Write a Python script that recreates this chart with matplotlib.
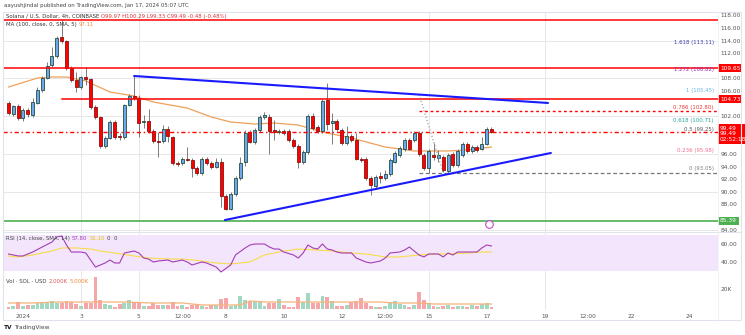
import matplotlib
matplotlib.use("Agg")
import matplotlib.pyplot as plt
import matplotlib.dates as mdates
import matplotlib.transforms as mtransforms
from matplotlib.patches import Rectangle
from matplotlib.lines import Line2D
import numpy as np
import pandas as pd

W, H = 745, 335

# SOL/USD 4h candles, Coinbase
opens = [104.10, 102.35, 103.62, 101.71, 102.98, 102.19, 104.10, 106.16, 108.06, 110.13,
         111.56, 114.57, 113.94, 109.65, 107.75, 106.63, 108.22, 107.90, 103.46, 101.87,
         97.27, 98.54, 101.08, 98.86, 98.70, 103.78, 105.21, 104.89, 101.08, 101.24,
         99.65, 98.06, 98.06, 99.97, 98.70, 94.57, 94.57, 95.21, 95.05, 93.78,
         92.98, 95.21, 94.57, 93.94, 94.73, 89.33, 87.27, 89.65, 92.19, 94.73,
         99.49, 97.90, 99.81, 101.87, 101.87, 99.81, 99.49, 99.65, 99.65, 98.22,
         97.27, 94.73, 96.32, 102.03, 100.29, 99.65, 104.57, 100.92, 101.24, 99.81,
         97.75, 98.86, 98.22, 95.21, 95.21, 92.19, 90.92, 92.51, 92.19, 92.83,
         94.73, 95.84, 96.79, 98.22, 98.22, 99.33, 95.84, 93.78, 95.84, 95.36,
         95.52, 93.30, 96.00, 94.25, 95.84, 97.59, 96.48, 97.11, 96.79, 97.59,
         99.97]
highs = [104.41, 103.78, 103.94, 103.30, 103.30, 104.89, 106.63, 108.38, 110.60, 112.98,
         114.73, 117.27, 114.10, 109.97, 109.02, 108.38, 109.81, 108.06, 103.78, 102.03,
         98.86, 101.40, 101.40, 99.33, 103.94, 105.52, 108.38, 105.36, 102.19, 103.14,
         99.97, 99.49, 100.60, 100.44, 98.86, 94.89, 95.52, 97.11, 95.36, 94.10,
         95.52, 95.52, 94.89, 95.36, 95.36, 89.65, 89.97, 92.51, 95.52, 99.81,
         99.81, 100.13, 102.19, 102.67, 102.35, 101.40, 99.97, 99.97, 99.97, 98.54,
         97.59, 96.63, 102.35, 102.51, 100.60, 104.73, 107.27, 102.51, 101.55, 100.13,
         100.44, 99.17, 99.33, 95.52, 95.52, 92.51, 92.67, 93.14, 93.46, 95.36,
         96.48, 97.27, 98.54, 98.54, 99.65, 99.65, 96.16, 96.79, 97.75, 96.63,
         95.84, 96.16, 96.32, 96.79, 97.90, 97.90, 97.43, 97.43, 98.70, 100.29,
         100.29]
lows = [102.19, 102.03, 101.40, 101.24, 101.87, 101.87, 103.94, 105.84, 107.90, 109.81,
        111.24, 113.62, 109.33, 107.43, 105.84, 106.32, 106.95, 103.14, 101.55, 96.95,
        96.95, 98.38, 98.38, 98.22, 98.38, 103.62, 104.57, 98.70, 100.13, 99.33,
        97.75, 95.52, 97.75, 97.90, 94.25, 94.10, 94.25, 94.89, 92.35, 92.67,
        92.67, 94.25, 93.62, 93.78, 87.59, 87.11, 87.11, 89.33, 91.87, 94.10,
        97.75, 97.59, 99.49, 101.55, 96.00, 98.22, 99.17, 99.02, 97.90, 96.95,
        93.78, 94.41, 96.00, 99.81, 99.33, 99.33, 99.81, 97.59, 99.65, 97.43,
        97.43, 97.90, 95.05, 94.73, 91.87, 89.49, 90.60, 91.40, 91.87, 92.51,
        94.57, 95.52, 96.48, 96.63, 97.90, 95.68, 93.46, 92.98, 95.05, 94.73,
        93.14, 92.98, 93.94, 93.94, 95.52, 96.16, 96.16, 96.32, 96.63, 97.43,
        99.33]
closes = [102.51, 103.62, 101.71, 102.98, 102.35, 104.25, 106.16, 108.06, 109.97, 111.56,
          114.41, 113.94, 109.65, 107.75, 106.63, 108.22, 107.90, 103.46, 101.87, 97.27,
          98.54, 101.08, 98.70, 98.70, 103.78, 105.21, 104.89, 100.92, 101.24, 99.65,
          98.06, 97.90, 99.97, 98.86, 94.57, 94.41, 95.21, 95.05, 93.78, 92.98,
          95.21, 94.57, 93.94, 94.73, 89.33, 87.27, 89.65, 92.19, 94.57, 99.33,
          97.90, 99.81, 101.87, 102.19, 99.65, 99.49, 99.65, 99.33, 98.22, 97.27,
          94.73, 96.32, 102.03, 100.13, 99.65, 104.41, 100.76, 101.24, 99.97, 97.75,
          98.86, 98.22, 95.21, 95.05, 92.19, 91.08, 92.35, 92.19, 92.83, 95.05,
          96.16, 96.95, 98.22, 96.79, 99.33, 96.00, 93.78, 96.48, 95.52, 95.84,
          93.46, 95.84, 94.25, 96.48, 97.59, 96.48, 97.11, 96.63, 97.59, 99.97,
          99.49]
volumes_k = [2, 3, 7, 3, 4, 4, 6, 7, 6, 8,
             6, 6, 8, 7, 5, 3, 6, 6, 32, 9,
             5, 4, 2, 5, 6, 9, 7, 7, 3, 3,
             6, 4, 4, 4, 7, 3, 4, 2, 4, 4,
             3, 2, 4, 4, 10, 11, 3, 4, 13, 9,
             8, 8, 8, 3, 6, 6, 10, 4, 2, 2,
             12, 7, 16, 6, 6, 13, 12, 8, 3, 3,
             4, 7, 8, 11, 6, 3, 2, 2, 3, 6,
             8, 5, 4, 2, 4, 17, 9, 6, 3, 2,
             3, 4, 2, 3, 3, 2, 4, 3, 5, 6,
             2]

# 100 SMA (candle index, value)
ma_at = [0, 6, 9, 12, 16, 21, 26, 30, 37, 42, 46, 51, 55, 60, 65, 71, 78, 81, 84, 91, 95, 100]
ma_vals = [106.63, 108.06, 108.22, 108.22, 107.59, 105.84, 105.21, 104.25, 103.30, 101.87, 101.08,
           100.76, 100.92, 100.60, 99.49, 98.54, 97.11, 96.79, 96.48, 96.48, 96.63, 97.11]

# RSI(14) and its SMA
rsi_at = [0, 2, 3, 5, 7, 9, 10, 11, 12, 13, 15, 16, 17, 18, 20, 21, 22, 23, 24, 26, 27, 28, 29, 30,
          31, 33, 34, 36, 37, 38, 40, 41, 43, 44, 46, 47, 49, 50, 51, 53, 54, 55, 56, 57, 59, 60,
          61, 62, 63, 64, 65, 66, 67, 68, 69, 71, 72, 73, 74, 75, 76, 77, 78, 79, 81, 82, 83, 84,
          85, 86, 87, 89, 90, 91, 92, 93, 94, 96, 97, 98, 99, 100]
rsi_vals = [48.9, 46.7, 46.7, 51.1, 56.7, 62.2, 67.8, 68.9, 58.9, 51.1, 51.1, 50.0, 42.2, 34.4,
            38.9, 42.2, 38.9, 38.9, 50.0, 52.2, 50.0, 44.4, 43.3, 40.0, 41.1, 42.2, 40.0, 42.2,
            40.0, 36.7, 40.0, 38.9, 34.4, 28.9, 36.7, 47.8, 55.6, 58.9, 60.0, 60.0, 56.7, 54.4,
            54.4, 51.1, 47.8, 44.4, 50.0, 58.9, 55.6, 54.4, 60.0, 54.4, 53.3, 51.1, 50.0, 50.0,
            44.4, 42.2, 40.0, 38.9, 40.0, 41.1, 44.4, 50.0, 51.1, 53.3, 56.7, 52.2, 47.8, 45.6,
            48.9, 48.9, 45.6, 50.0, 47.8, 51.1, 51.1, 51.1, 51.1, 55.6, 58.9, 57.8]
rsi_ma_at = [0, 2, 5, 9, 11, 14, 17, 19, 22, 26, 29, 33, 36, 40, 43, 46, 50, 53, 57, 60, 64, 67,
             71, 74, 78, 81, 85, 88, 91, 95, 98, 100]
rsi_ma_vals = [46.7, 45.6, 47.8, 52.2, 55.6, 55.6, 54.4, 52.2, 50.0, 46.7, 44.4, 43.3, 43.3, 41.1,
               38.9, 37.8, 40.0, 47.8, 52.2, 54.4, 53.3, 52.2, 50.0, 48.9, 45.6, 45.6, 47.8, 48.9,
               48.9, 50.0, 51.1, 51.1]

# volume moving average
vol_ma_at = [0, 5, 10, 17, 20, 24, 30, 36, 40, 48, 50, 53, 60, 64, 70, 74, 77, 80, 85, 88, 95, 100]
vol_ma_vals = [6, 6, 7, 7, 7, 7, 6, 6, 4, 4, 8, 7, 7, 7, 7, 7, 7, 6, 6, 5, 5, 5]

# horizontal levels
resistance_top = 117.27
resistance_mid = 109.65
resistance_low = 104.73
pivot_level = 99.49
support_level = 85.39

# trend lines: (candle index, price)
upper_trend = [(26, 108.38), (111.7, 104.10)]
lower_trend = [(44.8, 85.52), (112.3, 96.16)]

# fib retracement anchors
fib_high = 105.45
fib_low = 93.05
fib_start, fib_end = 85, 90
fib_levels = [1.618, 1.272, 1, 0.786, 0.618, 0.5, 0.236, 0]
fib_colors = ["#3b3bb8", "#9c27b0", "#64b5dc", "#e53935", "#26a69a", "#555555", "#ef6f8f", "#787b86"]

tick_labels = ["2024", "3", "5", "12:00", "8", "10", "12", "12:00", "15", "17", "19", "12:00", "22", "24"]
tick_times = ["2024-01-01", "2024-01-03", "2024-01-05", "2024-01-06 12:00", "2024-01-08",
              "2024-01-10", "2024-01-12", "2024-01-13 12:00", "2024-01-15", "2024-01-17",
              "2024-01-19", "2024-01-20 12:00", "2024-01-22", "2024-01-24"]
grid_times = ["2024-01-03", "2024-01-05", "2024-01-15", "2024-01-19"]

times = pd.date_range("2023-12-31 12:00", periods=len(closes), freq="4h")
tx = mdates.date2num(times)
BAR = 4 / 24


def slot(i):
    """x position of candle slot i (works past the last candle too)."""
    return tx[0] + np.asarray(i, dtype=float) * BAR


def plot_candlesticks(ax, x, o, h, l, c):
    o, h, l, c = map(np.asarray, (o, h, l, c))
    up = c >= o
    ax.vlines(x, l, h, color="#5a5a5a", lw=0.55, zorder=3)
    bottom = np.minimum(o, c)
    height = np.maximum(np.abs(c - o), 0.16)
    w = BAR * 0.62
    ax.bar(x[up], height[up], w, bottom[up], color="#6ea6f0", edgecolor="#23503c",
           linewidth=0.6, zorder=4)
    ax.bar(x[~up], height[~up], w, bottom[~up], color="#ff0000", edgecolor="#8a1010",
           linewidth=0.6, zorder=4)
    return up


def price_box(ax, y, text, face, fg="white", va="center"):
    tr = mtransforms.blended_transform_factory(ax.transAxes, ax.transData)
    ax.text(1 + 2 / 715, y, text, transform=tr, ha="left", va=va, fontsize=4.2,
            color=fg, clip_on=False, zorder=10, linespacing=1.15,
            bbox=dict(boxstyle="square,pad=0.3", facecolor=face, edgecolor="none"))


fig = plt.figure(figsize=(W / 100, H / 100), dpi=100, facecolor="white")


def area(x0, y0, x1, y1):
    return [x0 / W, 1 - y1 / H, (x1 - x0) / W, (y1 - y0) / H]


ax_price = fig.add_axes(area(3, 12, 718, 232))
ax_rsi = fig.add_axes(area(3, 232, 718, 276), sharex=ax_price)
ax_vol = fig.add_axes(area(3, 276, 718, 310), sharex=ax_price)

for ax in (ax_price, ax_rsi, ax_vol):
    ax.set_facecolor("none")
    for s in ax.spines.values():
        s.set_visible(False)
    ax.yaxis.tick_right()
    ax.tick_params(axis="both", length=0, labelsize=4.2, labelcolor="#555555", pad=2)
    for t in grid_times:
        ax.axvline(mdates.date2num(pd.Timestamp(t)), color="#e3e3e3", lw=0.6, zorder=0)

ax_price.set_xlim(slot(-1.14), slot(146.9))
ax_price.set_ylim(83.62, 118.54)
ax_rsi.set_ylim(24.44, 73.33)
ax_vol.set_ylim(-1, 33)

# price grid and scale; labels hidden where a level tag covers them
for g in range(84, 120, 6):
    ax_price.axhline(g, color="#e3e3e3", lw=0.6, zorder=0)
tagged = [resistance_mid, resistance_low, closes[-1], pivot_level - 1.0, support_level]
scale = [v for v in np.arange(84, 119, 2) if min(abs(v - t) for t in tagged) > 1.1]
ax_price.set_yticks(scale)
ax_price.set_yticklabels([f"{v:.2f}" for v in scale])
ax_price.tick_params(labelbottom=False)
ax_rsi.tick_params(labelbottom=False)

# candles and 100 SMA
up = plot_candlesticks(ax_price, tx, opens, highs, lows, closes)
ax_price.plot(slot(ma_at), ma_vals, color="#f0a05a", lw=0.9, zorder=2)

# horizontal levels
ax_price.axhline(resistance_top, color="#ff0000", lw=1.1, zorder=5)
ax_price.axhline(resistance_mid, color="#ff0000", lw=1.1, zorder=5)
ax_price.plot([slot(11), slot(146.9)], [resistance_low, resistance_low], color="#ff0000",
              lw=1.1, zorder=5)
ax_price.axhline(pivot_level, color="#ff0000", lw=1.0, ls=(0, (3, 2, 1, 2)), zorder=5)
ax_price.axhline(support_level, color="#4caf50", lw=1.2, zorder=5)

# trend lines
for (i0, p0), (i1, p1) in (upper_trend, lower_trend):
    ax_price.plot([slot(i0), slot(i1)], [p0, p1], color="#1a1aff", lw=1.5, zorder=6,
                  solid_capstyle="round")

# fibonacci levels
fib_span = fib_high - fib_low
tr_lbl = mtransforms.blended_transform_factory(ax_price.transAxes, ax_price.transData)
for lvl, col in zip(fib_levels, fib_colors):
    p = fib_low + lvl * fib_span
    if lvl == 0.786:
        ax_price.plot([slot(fib_start), slot(146.9)], [p, p], color="#ff0000", lw=1.0,
                      ls=(0, (2, 2)), zorder=5)
    if lvl == 0:
        ax_price.plot([slot(fib_start), slot(146.9)], [p, p], color="#777777", lw=0.9,
                      ls=(0, (3, 2)), zorder=5)
    lbl = f"{lvl:g} ({p:.2f})"
    ax_price.annotate(lbl, xy=(1, p), xycoords=tr_lbl, xytext=(-3, 1), textcoords="offset points",
                      ha="right", va="bottom", fontsize=3.9, color=col, zorder=7)
ax_price.plot([slot(fib_start), slot(fib_end)], [fib_high, fib_low], color="#8a8a8a", lw=0.8,
              ls=(0, (1, 2)), zorder=5)

# price scale tags for levels
price_box(ax_price, resistance_mid, f"{resistance_mid:.2f}", "#ff0000")
price_box(ax_price, resistance_low, f"{resistance_low:.2f}", "#ff0000")
price_box(ax_price, closes[-1] + 1.0, f"{closes[-1]:.2f}\n{pivot_level:.2f}\n02:52:18", "#ff0000",
          va="top")
price_box(ax_price, support_level, f"{support_level:.2f}", "#4caf50")

# events marker
ax_price.plot([slot(99.5)], [84.85], marker="o", ms=5.5, mfc="white", mec="#c04cc4", mew=0.8,
              zorder=8, clip_on=False)

# RSI pane
ax_rsi.axhspan(30, 70, color="#f3e6fc", zorder=0, lw=0)
ax_rsi.plot(slot(rsi_at), rsi_vals, color="#a43cb4", lw=0.8, zorder=3)
ax_rsi.plot(slot(rsi_ma_at), rsi_ma_vals, color="#f7dc4a", lw=0.8, zorder=2)
ax_rsi.set_yticks([40, 60])
ax_rsi.set_yticklabels(["40.00", "60.00"])

# volume pane
vol_colors = np.where(up, "#a2d8c2", "#f5a6a8")
ax_vol.bar(tx, volumes_k, BAR * 0.8, color=vol_colors, zorder=2)
ax_vol.plot(slot(vol_ma_at), vol_ma_vals, color="#f7b27a", lw=0.9, zorder=3)
ax_vol.set_yticks([20])
ax_vol.set_yticklabels(["20K"])
ax_vol.set_xticks([mdates.date2num(pd.Timestamp(t)) for t in tick_times])
ax_vol.set_xticklabels(tick_labels)
ax_vol.tick_params(axis="x", pad=3, labelsize=4.2)

# frame and pane separators
fig.add_artist(Rectangle((3 / W, 1 - 320 / H), 738 / W, 308 / H, transform=fig.transFigure,
                         fill=False, edgecolor="#e0e3eb", lw=0.8))
fig.add_artist(Line2D([3 / W, 741 / W], [1 - 232 / H] * 2, transform=fig.transFigure,
                      color="#e0e3eb", lw=0.8))
fig.add_artist(Line2D([718 / W] * 2, [1 - 320 / H, 1 - 12 / H], transform=fig.transFigure,
                      color="#eef0f4", lw=0.6))


def text_run(x, y, parts, size=3.9, weights=None):
    r = fig.canvas.get_renderer()
    for k, (s, c) in enumerate(parts):
        wt = weights[k] if weights else "normal"
        t = fig.text(x / W, 1 - y / H, s, color=c, fontsize=size, va="center_baseline",
                     ha="left", fontweight=wt)
        x += t.get_window_extent(renderer=r).width + 2


chg = closes[-1] - opens[-1]
text_run(4, 5, [("aayushjindal published on TradingView.com, Jan 17, 2024 05:07 UTC", "#444444")])
text_run(6, 16, [("Solana / U.S. Dollar, 4h, COINBASE", "#333333"),
                 (f"O{opens[-1]:.2f} H{highs[-1]:.2f} L{lows[-1]:.2f} C{closes[-1]:.2f} "
                  f"{chg:+.2f} ({chg / opens[-1] * 100:+.2f}%)", "#e03030")])
text_run(6, 24, [("MA (100, close, 0, SMA, 5)", "#333333"), (f"{ma_vals[-1]:.2f}", "#f08a3c")])
text_run(6, 238, [("RSI (14, close, SMA, 14)", "#444444"), (f"{rsi_vals[-1]:.2f}", "#a43cb4"),
                  (f"{rsi_ma_vals[-1]:.2f}", "#e6c300"), ("0  0", "#444444")])
text_run(6, 281, [("Vol · SOL · USD", "#444444"), (f"{volumes_k[-1]:.3f}K", "#e05555"),
                  (f"{vol_ma_vals[-1]:.3f}K", "#f08a3c")])
text_run(4, 327, [("TV", "#131722"), ("TradingView", "#444444")], size=4.2,
         weights=["bold", "normal"])

fig.savefig("out.png", dpi=100, facecolor="white")
